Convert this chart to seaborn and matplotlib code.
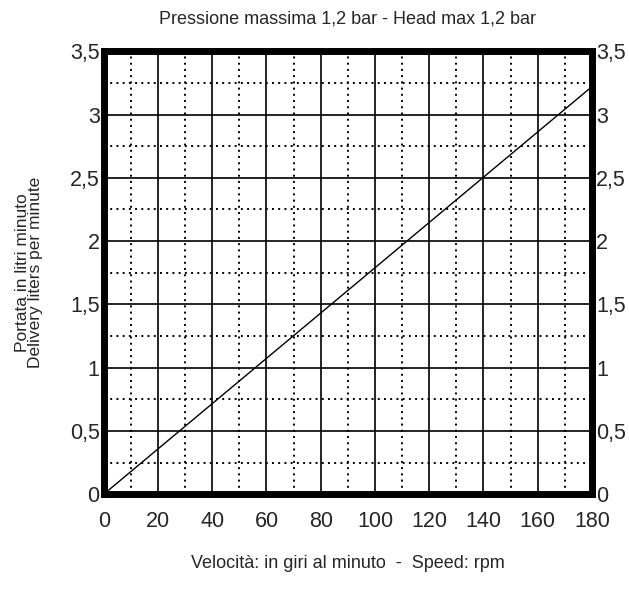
import numpy as np
import pandas as pd
import matplotlib
matplotlib.use('Agg')
import matplotlib.pyplot as plt
import seaborn as sns
from matplotlib.ticker import MultipleLocator, FuncFormatter

# ---------------- data ----------------
speed_rpm = [0, 180]
flow_lpm = [0, 3.22]
x_ticks = [0, 20, 40, 60, 80, 100, 120, 140, 160, 180]
y_ticks = [0, 0.5, 1, 1.5, 2, 2.5, 3, 3.5]

df = pd.DataFrame({'rpm': speed_rpm, 'flow': flow_lpm})

sns.set_style('white')
plt.rcParams['font.family'] = ['Liberation Sans', 'DejaVu Sans']

fig = plt.figure(figsize=(6.29, 5.89), dpi=100)
ax = fig.add_axes([0.165, 0.161, 0.776, 0.752])

sns.lineplot(data=df, x='rpm', y='flow', ax=ax, color='black', linewidth=1)

ax.set_xlim(0, 180)
ax.set_ylim(0, 3.5)
ax.set_xticks(x_ticks)
ax.set_yticks(y_ticks)
ax.xaxis.set_minor_locator(MultipleLocator(10))
ax.yaxis.set_minor_locator(MultipleLocator(0.25))
ax.grid(which='major', color='black', linewidth=1.2, linestyle='-')
ax.grid(which='minor', color='black', linewidth=1.4, linestyle=(0, (1, 2.2)))
ax.set_axisbelow(True)

for s in ax.spines.values():
    s.set_linewidth(5)
    s.set_color('black')

comma = FuncFormatter(lambda v, p: ('%g' % v).replace('.', ','))
ax.yaxis.set_major_formatter(comma)
ax.tick_params(which='both', length=0, labelsize=15.5, pad=3)
ax.tick_params(axis='y', right=True, labelright=True)
ax.tick_params(axis='x', pad=12)

ax.set_title('Pressione massima 1,2 bar - Head max 1,2 bar', fontsize=13, pad=20)
ax.set_xlabel('Velocità: in giri al minuto  -  Speed: rpm', fontsize=13, labelpad=17)
ax.set_ylabel('Portata in litri minuto\nDelivery liters per minute', fontsize=12.5,
              labelpad=19, linespacing=0.9)

plt.savefig('out.png', dpi=100)
